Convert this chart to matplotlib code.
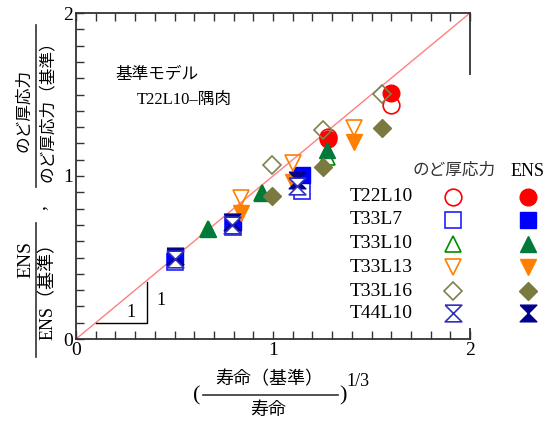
import numpy as np
import matplotlib
matplotlib.use('Agg')
import matplotlib.pyplot as plt
from matplotlib.lines import Line2D
from matplotlib.patches import Rectangle
from matplotlib.ticker import MultipleLocator, FixedLocator

plt.rcParams['font.family'] = ['Liberation Serif', 'Noto Sans CJK JP']

W, H = 546, 424

# datos: x = (寿命(基準)/寿命)^(1/3), y = のど厚応力 / ENS normalizados
series = ['T22L10', 'T33L7', 'T33L10', 'T33L13', 'T33L16', 'T44L10']

x_t22l10 = [1.28, 1.60]
nodo_t22l10 = [1.24, 1.435]
ens_t22l10 = [1.225, 1.51]

x_t33l7 = [0.505, 0.795, 1.145]
nodo_t33l7 = [0.47, 0.69, 0.91]
ens_t33l7 = [0.505, 0.72, 1.005]

x_t33l10 = [0.67, 0.945, 1.275]
nodo_t33l10 = [0.675, 0.895, 1.115]
ens_t33l10 = [0.675, 0.895, 1.16]

x_t33l13 = [0.84, 1.10, 1.41]
nodo_t33l13 = [0.865, 1.08, 1.295]
ens_t33l13 = [0.775, 0.965, 1.21]

x_t33l16 = [0.995, 1.255, 1.555]
nodo_t33l16 = [1.065, 1.28, 1.505]
ens_t33l16 = [0.875, 1.055, 1.295]

x_t44l10 = [0.50, 0.79, 1.12]
nodo_t44l10 = [0.49, 0.70, 0.94]
ens_t44l10 = [0.51, 0.72, 0.975]

xs = [x_t22l10, x_t33l7, x_t33l10, x_t33l13, x_t33l16, x_t44l10]
ys_nodo = [nodo_t22l10, nodo_t33l7, nodo_t33l10, nodo_t33l13, nodo_t33l16, nodo_t44l10]
ys_ens = [ens_t22l10, ens_t33l7, ens_t33l10, ens_t33l13, ens_t33l16, ens_t44l10]

# marcador reloj de arena
reloj = [(-1, 1), (1, 1), (-1, -1), (1, -1), (-1, 1)]

marcadores = ['o', 's', '^', 'v', 'D', reloj]
tam = [12, 12, 12, 12, 9, 12]
col_abierto = ['#ff0000', '#2020ff', '#008c00', '#ff8000', '#808050', '#3030c0']
col_lleno = ['#ff0000', '#0000ff', '#007a3a', '#ff8000', '#7a7a40', '#00008b']


def px(x, y):
    # pixeles (origen arriba-izquierda) a fraccion de figura
    return x / W, 1 - y / H


fig = plt.figure(figsize=(W / 100, H / 100), dpi=100)
ax = fig.add_axes([76 / W, (H - 339) / H, (470 - 76) / W, (339 - 13) / H])
ax.set_xlim(0, 2)
ax.set_ylim(0, 2)

ax.plot([0, 2], [0, 2], color='#ff8080', lw=1.0, zorder=1)

# triangulo de pendiente 1
ax.plot([0.1, 0.36, 0.36], [0.1, 0.1, 0.35], color='black', lw=1.0)
ax.text(0.28, 0.165, '1', fontsize=13, ha='center', va='center')
ax.text(0.43, 0.235, '1', fontsize=13, ha='center', va='center')

for i in range(len(series)):
    face = 'white' if i == 5 else 'none'
    if i == 5:
        ax.plot(xs[i], ys_ens[i], ls='none', marker=marcadores[i], ms=tam[i],
                color=col_lleno[i], mec=col_lleno[i], zorder=3)
        ax.plot(xs[i], ys_nodo[i], ls='none', marker=marcadores[i], ms=tam[i],
                mfc=face, mec=col_abierto[i], mew=1.2, zorder=3)
    else:
        ax.plot(xs[i], ys_nodo[i], ls='none', marker=marcadores[i], ms=tam[i],
                mfc=face, mec=col_abierto[i], mew=1.2, zorder=3)
        ax.plot(xs[i], ys_ens[i], ls='none', marker=marcadores[i], ms=tam[i],
                color=col_lleno[i], mec=col_lleno[i], zorder=3)

ax.text(0.2, 1.62, '基準モデル', fontsize=12, va='center')
ax.text(0.31, 1.465, 'T22L10–隅肉', fontsize=12, va='center')

ax.xaxis.set_major_locator(FixedLocator([0, 1, 2]))
ax.yaxis.set_major_locator(FixedLocator([0, 1, 2]))
ax.xaxis.set_minor_locator(MultipleLocator(0.1))
ax.yaxis.set_minor_locator(MultipleLocator(0.1))
ax.tick_params(which='both', direction='in', length=6, width=1.0, color='#333333',
               top=True, right=False, labelsize=14, pad=2)
for s in ax.spines.values():
    s.set_color('#333333')
    s.set_linewidth(1.3)

# leyenda con fondo blanco
fig.add_artist(Rectangle(px(462, 328), (W - 462) / W, (328 - 75) / H,
                         transform=fig.transFigure, facecolor='white',
                         edgecolor='none', zorder=2))
fig.text(*px(454, 171), 'のど厚応力', fontsize=12, ha='center', va='center',
         color='#333333', zorder=3)
fig.text(*px(528, 171), 'ENS', fontsize=13, ha='center', va='center', zorder=3)
filas = [197, 220, 244, 267, 291, 313]
for i, nombre in enumerate(series):
    fig.text(*px(350, filas[i]), nombre, fontsize=14, ha='left', va='center', zorder=3)
    fx, fy = px(453, filas[i])
    fig.add_artist(Line2D([fx], [fy], marker=marcadores[i], ms=tam[i], mfc='none',
                          mec=col_abierto[i], mew=1.2, transform=fig.transFigure, zorder=3))
    fx, fy = px(528, filas[i])
    fig.add_artist(Line2D([fx], [fy], marker=marcadores[i], ms=tam[i],
                          color=col_lleno[i], mec=col_lleno[i],
                          transform=fig.transFigure, zorder=3))

# etiqueta eje y (dos fracciones giradas)
fig.text(*px(24, 110), 'のど厚応力', fontsize=12, rotation=90, ha='center', va='center')
fig.add_artist(Line2D([36 / W, 36 / W], [1 - 25 / H, 1 - 187 / H], color='#333333',
                      lw=1.2, transform=fig.transFigure))
fig.text(*px(48, 107), 'のど厚応力（基準）', fontsize=12, rotation=90, ha='center', va='center')
fig.text(*px(40, 208), ',', fontsize=14, rotation=90, ha='center', va='center')
fig.text(*px(26, 260), 'ENS', fontsize=14, rotation=90, ha='center', va='center')
fig.add_artist(Line2D([36 / W, 36 / W], [1 - 223 / H, 1 - 357 / H], color='#333333',
                      lw=1.2, transform=fig.transFigure))
fig.text(*px(48, 287), 'ENS（基準）', fontsize=13, rotation=90, ha='center', va='center')

# etiqueta eje x
fig.text(*px(197, 396), '(', fontsize=16, ha='center', va='center')
fig.text(*px(269, 380), '寿命（基準）', fontsize=13, ha='center', va='center')
fig.add_artist(Line2D([203 / W, 338 / W], [1 - 395 / H, 1 - 395 / H], color='#333333',
                      lw=1.2, transform=fig.transFigure))
fig.text(*px(268, 410), '寿命', fontsize=13, ha='center', va='center')
fig.text(*px(343, 396), ')', fontsize=16, ha='center', va='center')
fig.text(*px(358, 382), '1/3', fontsize=13, ha='center', va='center')

fig.savefig('out.png', dpi=100)
